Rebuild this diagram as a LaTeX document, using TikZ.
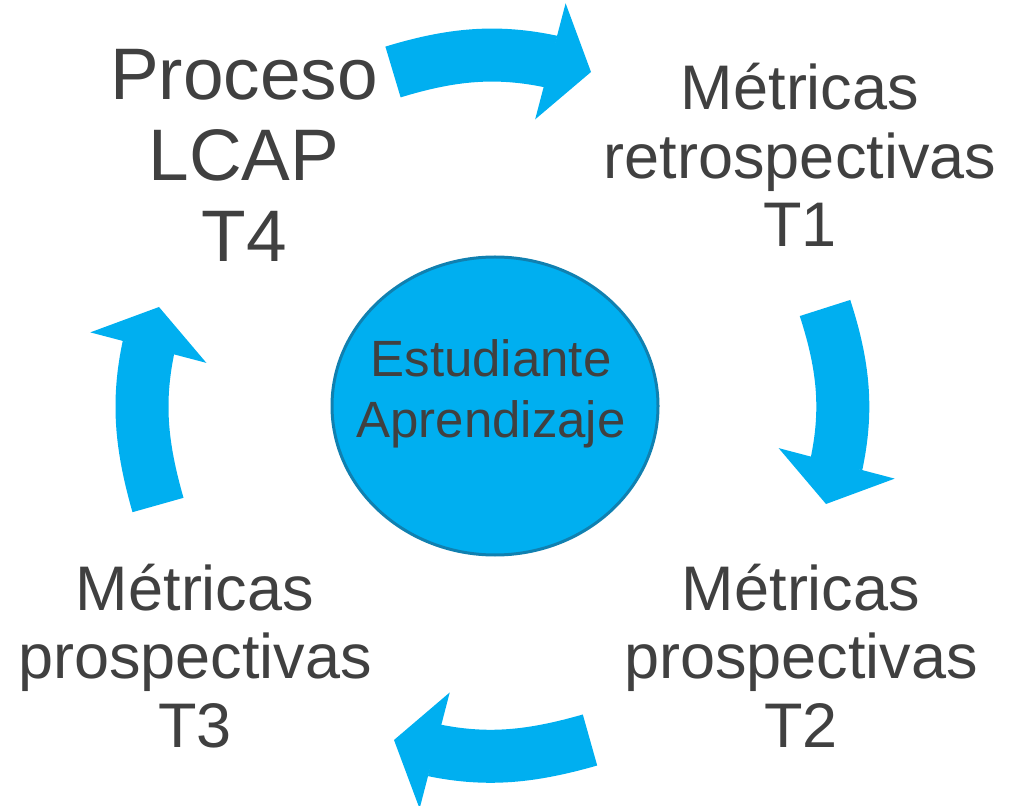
\documentclass[tikz,border=0pt]{standalone}
\usepackage{fontspec}
\setmainfont{Liberation Sans}
\usetikzlibrary{arrows.meta,bending,shapes.geometric}
\definecolor{cyclecyan}{RGB}{0,175,240}
\definecolor{hubborder}{RGB}{16,128,176}
\definecolor{labelgray}{RGB}{64,64,64}
\tikzset{
% Block arrows of the cycle, the centre and the phase texts
cycle arrow/.style={draw=cyclecyan,line width=26.5pt,
  -{Triangle[width=60pt,length=21pt,line width=0pt,flex]}},
phase text/.style={text=labelgray,align=center,inner sep=0,anchor=base,
  font=\fontsize{31.5}{34.25}\selectfont},
hub node/.style={ellipse,draw=hubborder,line width=1.5pt,fill=cyclecyan,
  minimum width=163pt,minimum height=149pt}
}

\begin{document}
\begin{tikzpicture}[x=0.5pt,y=-0.5pt]
\useasboundingbox (0,0) rectangle (1011,806);
% The centre
\node(hub)[hub node] at (495,406) {};
\node(hubtext)[phase text,font=\fontsize{25.5}{30.5}\selectfont] at (491,438) {Estudiante\\Aprendizaje};
% The four phases (placed at the baseline of the last line)
\node(t4)[phase text,font=\fontsize{36.5}{40.5}\selectfont] at (244,262) {Proceso\\LCAP\\T4};
\node(t1)[phase text] at (800,247) {Métricas\\retrospectivas\\T1};
\node(t2)[phase text] at (801,747) {Métricas\\prospectivas\\T2};
\node(t3)[phase text] at (195,747) {Métricas\\prospectivas\\T3};
% Ends of the arrows
\coordinate (a1) at (393,72);
\coordinate (b1) at (591,72);
\coordinate (a2) at (825,308);
\coordinate (b2) at (826,504);
\coordinate (a3) at (590,740);
\coordinate (b3) at (394,740);
\coordinate (a4) at (158,505);
\coordinate (b4) at (159,307);
% The cycle
\draw[cycle arrow] (a1) to[out=17,in=163] (b1);
\draw[cycle arrow] (a2) to[out=-72,in=73] (b2);
\draw[cycle arrow] (a3) to[out=-164,in=-17] (b3);
\draw[cycle arrow] (a4) to[out=106,in=-107] (b4);
\end{tikzpicture}
\end{document}
